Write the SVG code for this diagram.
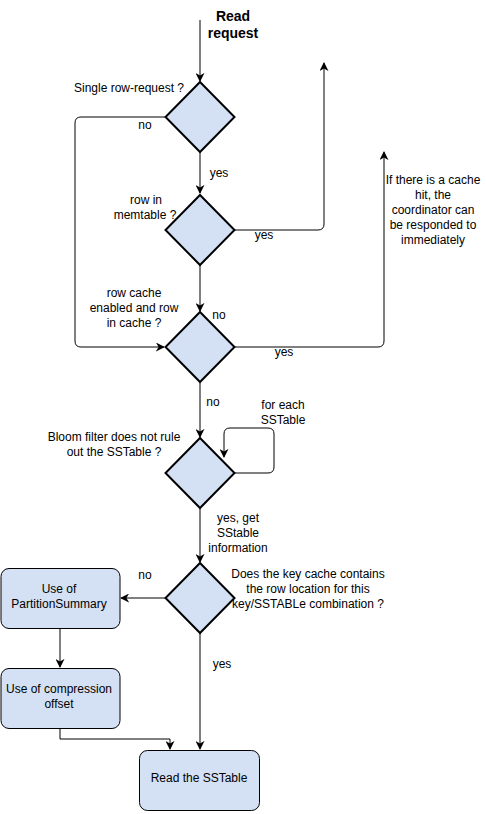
<svg xmlns="http://www.w3.org/2000/svg" width="486" height="814" viewBox="0 0 486 814">
<style>
text{font-family:"Liberation Sans",Arial,sans-serif;font-size:12px;fill:#000;text-anchor:middle}
.b{font-weight:bold;font-size:14px}
.d{fill:#D4E1F5;stroke:#000;stroke-width:2}
.r{fill:#D4E1F5;stroke:#000;stroke-width:1}
.e{fill:none;stroke:#000;stroke-width:1}
</style>
<defs>
<marker id="a" viewBox="0 0 10 10" refX="9" refY="5" markerWidth="9" markerHeight="9" markerUnits="userSpaceOnUse" orient="auto">
<path d="M0,0 L10,5 L0,10 L3,5 Z" fill="#000"/>
</marker>
</defs>
<g id="connectors">
<path class="e" d="M200,20 V81" marker-end="url(#a)"/>
<path class="e" d="M165,117 H81 Q75,117 75,123 V341 Q75,347 81,347 H164" marker-end="url(#a)"/>
<path class="e" d="M200,151 V193" marker-end="url(#a)"/>
<path class="e" d="M234,230 H318 Q324,230 324,224 V63" marker-end="url(#a)"/>
<path class="e" d="M200,264 V311" marker-end="url(#a)"/>
<path class="e" d="M234,347 H378 Q384,347 384,341 V152" marker-end="url(#a)"/>
<path class="e" d="M200,381 V437" marker-end="url(#a)"/>
<path class="e" d="M234,473 H268 Q274,473 274,467 V434 Q274,428 268,428 H230 Q224,428 224,434 V457" marker-end="url(#a)"/>
<path class="e" d="M200,507 V562" marker-end="url(#a)"/>
<path class="e" d="M166,598 H121" marker-end="url(#a)"/>
<path class="e" d="M60,628 V667" marker-end="url(#a)"/>
<path class="e" d="M60,728 V739 H170 V749" marker-end="url(#a)"/>
<path class="e" d="M200,632 V749" marker-end="url(#a)"/>
<text x="145" y="129">no</text>
<text x="219" y="177">yes</text>
<text x="264" y="239">yes</text>
<text x="219" y="319">no</text>
<text x="284" y="356">yes</text>
<text x="213" y="406">no</text>
<text x="238" y="522">yes, get</text>
<text x="238" y="537">SStable</text>
<text x="238" y="552">information</text>
<text x="145" y="579">no</text>
<text x="222" y="668">yes</text>
<text x="283" y="409">for each</text>
<text x="283" y="424">SSTable</text>
<text x="433" y="184">If there is a cache</text>
<text x="433" y="199">hit, the</text>
<text x="433" y="214">coordinator can</text>
<text x="433" y="229">be responded to</text>
<text x="433" y="244">immediately</text>
</g>
<g id="start">
<text class="b" x="233" y="21">Read</text>
<text class="b" x="233" y="38">request</text>
</g>
<g id="d1">
<path class="d" d="M200,82 L234.5,117 L200,152 L165.5,117 Z"/>
<text x="129" y="92">Single row-request ?</text>
</g>
<g id="d2">
<path class="d" d="M200,195 L234.5,230 L200,265 L165.5,230 Z"/>
<text x="146" y="204">row in</text>
<text x="145" y="219">memtable ?</text>
</g>
<g id="d3">
<path class="d" d="M200,312 L234.5,347 L200,382 L165.5,347 Z"/>
<text x="134" y="297">row cache</text>
<text x="134" y="312">enabled and row</text>
<text x="134" y="327">in cache ?</text>
</g>
<g id="d4">
<path class="d" d="M200,438 L234.5,473 L200,508 L165.5,473 Z"/>
<text x="114" y="441">Bloom filter does not rule</text>
<text x="114" y="456">out the SSTable ?</text>
</g>
<g id="d5">
<path class="d" d="M200,563 L234.5,598 L200,633 L165.5,598 Z"/>
<text x="308" y="578">Does the key cache contains</text>
<text x="308" y="593">the row location for this</text>
<text x="308" y="608">key/SSTABLe combination ?</text>
</g>
<g id="box1">
<rect class="r" x="1" y="568.5" width="119" height="60" rx="8"/>
<text x="59" y="593">Use of</text>
<text x="59" y="608">PartitionSummary</text>
</g>
<g id="box2">
<rect class="r" x="1" y="668.5" width="119" height="60" rx="8"/>
<text x="59" y="693">Use of compression</text>
<text x="59" y="708">offset</text>
</g>
<g id="box3">
<rect class="r" x="139.5" y="750.5" width="120" height="60" rx="8"/>
<text x="199" y="782">Read the SSTable</text>
</g>
</svg>
